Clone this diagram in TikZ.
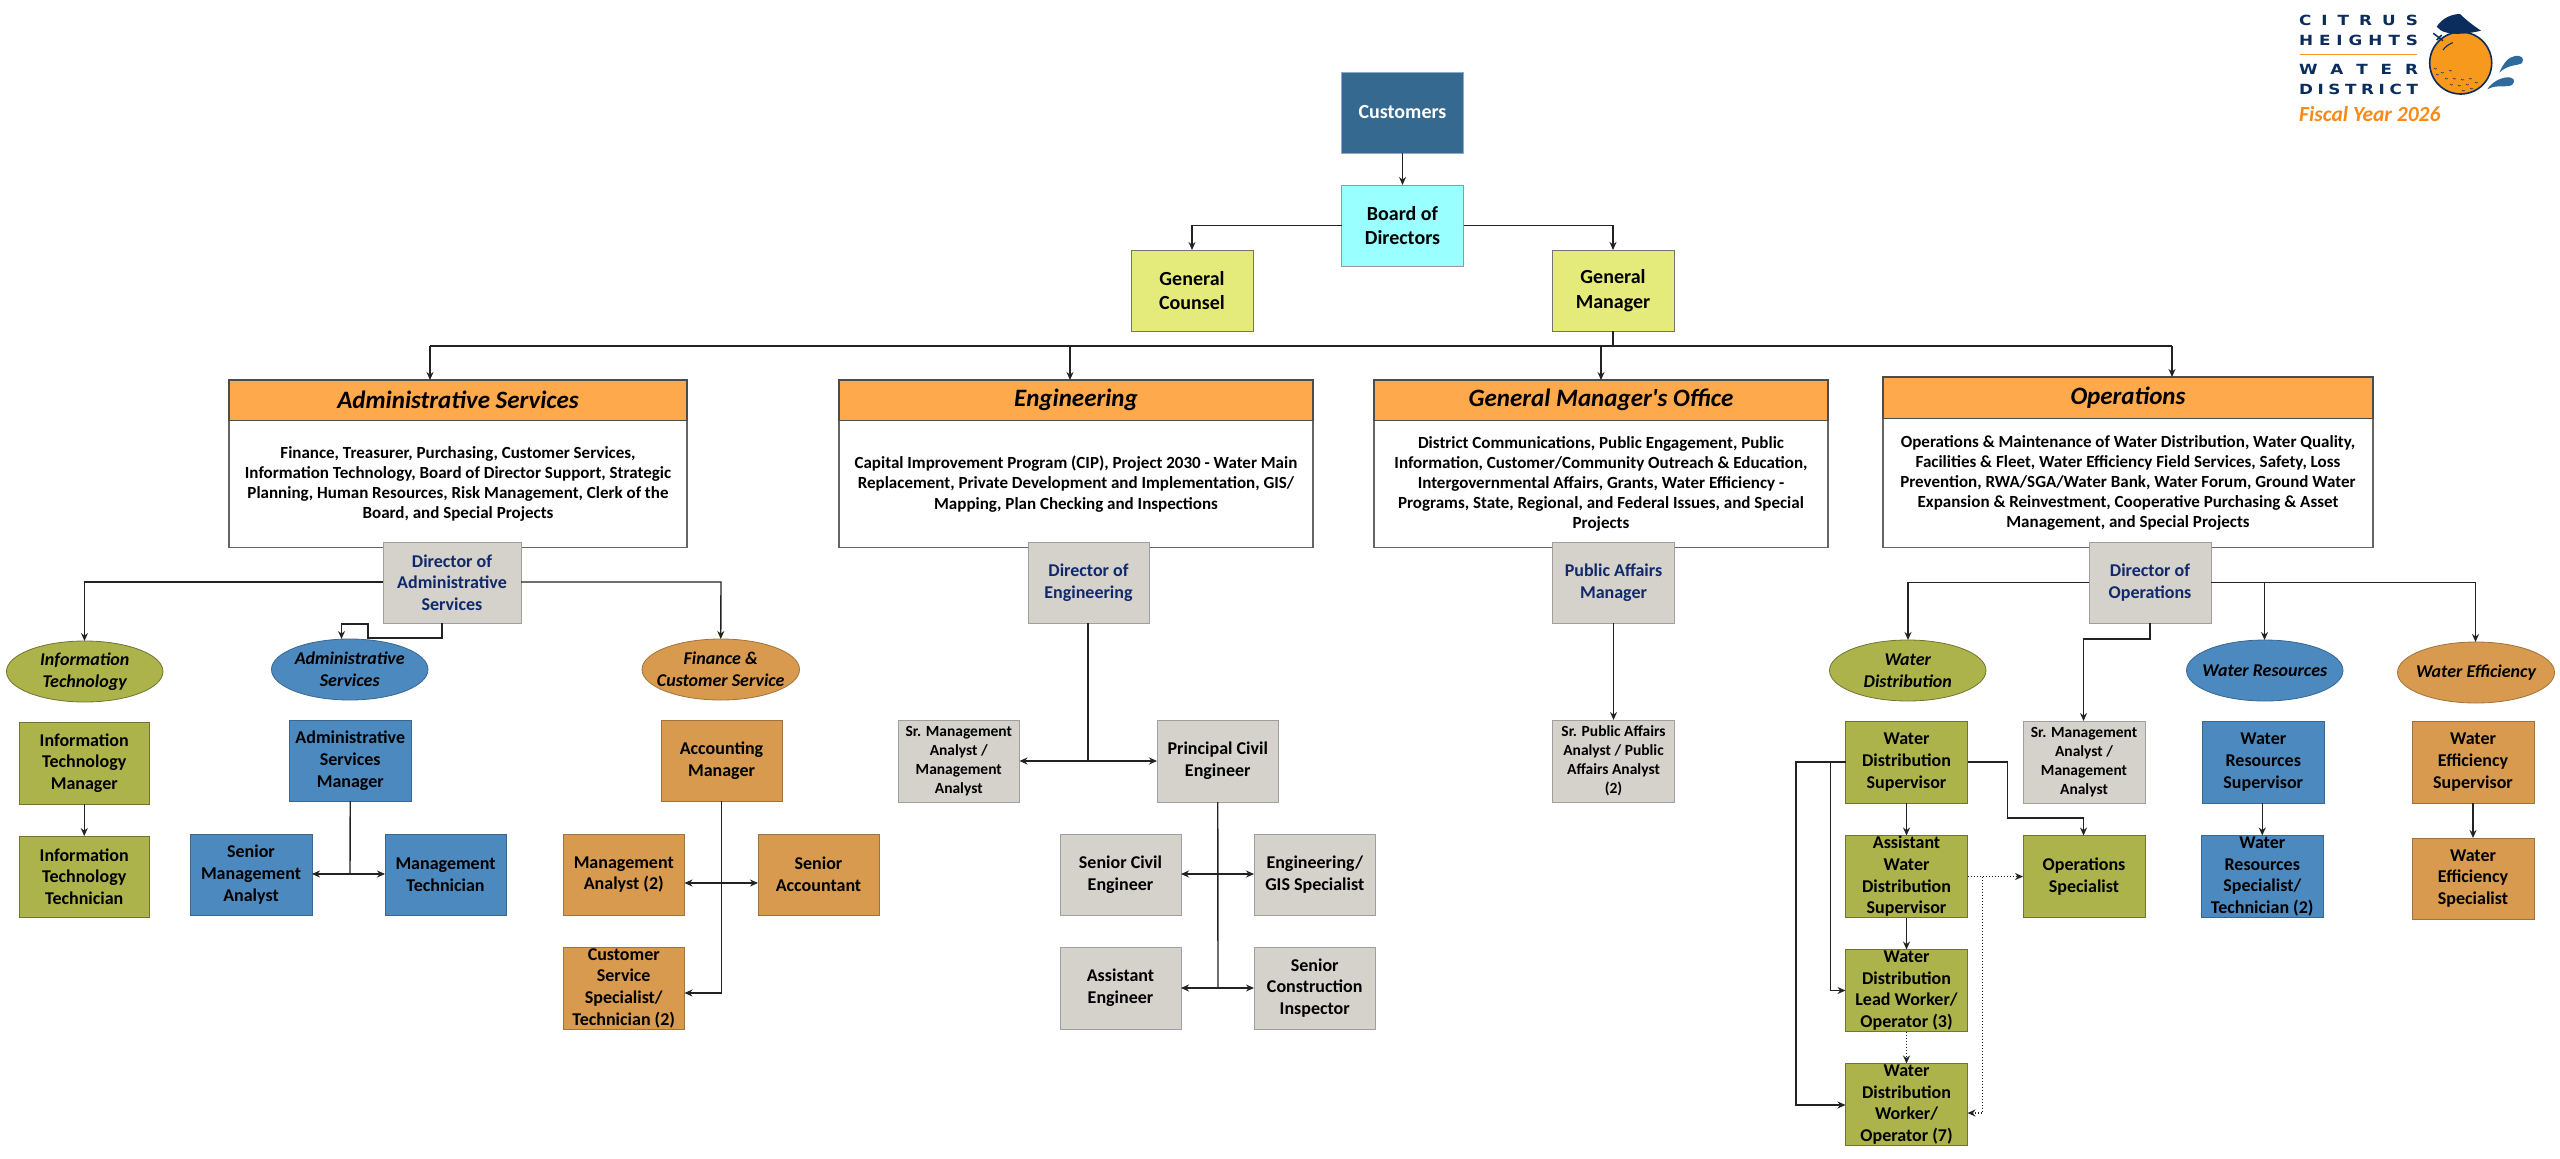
\documentclass[tikz,border=0pt]{standalone}
\usepackage{fontspec}
\setmainfont{Carlito}[Ligatures=TeXOff]
\newfontfamily\logofont[FakeStretch=1.2]{DejaVu Sans}
\usetikzlibrary{arrows.meta,shapes.geometric}
\definecolor{custfill}{HTML}{356990}
\definecolor{custline}{HTML}{8FA8D0}
\definecolor{boardfill}{HTML}{99FFFF}
\definecolor{gmfill}{HTML}{E5EB7B}
\definecolor{headfill}{HTML}{FFA94D}
\definecolor{dirfill}{HTML}{D5D1CB}
\definecolor{navytext}{HTML}{10296A}
\definecolor{olivefill}{HTML}{ADB34B}
\definecolor{bluefill}{HTML}{4C89BF}
\definecolor{orfill}{HTML}{D79A4E}
\definecolor{logonavy}{HTML}{0B2D5E}
\definecolor{logoor}{HTML}{F7991C}
\definecolor{dropblue}{HTML}{2F6A9C}
\definecolor{conncol}{HTML}{222222}
\newcommand{\bx}[7]{%
  \pgfmathsetmacro\myW{#4-#2}\pgfmathsetmacro\myH{#5-#3}%
  \pgfmathsetmacro\myX{(#2+#4)/2}\pgfmathsetmacro\myY{(#3+#5)/2}%
  \node[#6,minimum width=\myW pt,minimum height=\myH pt] (#1) at (\myX,\myY) {#7};}
\newcommand{\elx}[7]{%
  \pgfmathsetmacro\myW{#4-#2}\pgfmathsetmacro\myH{#5-#3}%
  \pgfmathsetmacro\myX{(#2+#4)/2}\pgfmathsetmacro\myY{(#3+#5)/2}%
  \node[#6,minimum width=\myW pt,minimum height=\myH pt] (#1) at (\myX,\myY) {};
  \node[eltext] (#1t) at (#1.center) {#7};}
\newcommand{\spaced}[1]{\makebox[119pt][s]{#1}}
\tikzset{
  basebox/.style={draw,rectangle,inner sep=0pt,outer sep=0pt,align=center,line width=1pt,
    font=\bfseries\fontsize{18}{21.7}\selectfont,text=black},
  topbox/.style={basebox,font=\bfseries\fontsize{20}{24.5}\selectfont},
  cust/.style={topbox,fill=custfill,draw=custline,text=white},
  board/.style={topbox,fill=boardfill,draw=gray!80},
  gmbox/.style={topbox,fill=gmfill,draw=gray!90!black},
  head/.style={basebox,fill=headfill,draw=black!70,line width=1.2pt,font=\bfseries\itshape\fontsize{25}{30}\selectfont},
  body/.style={basebox,fill=white,draw=black!60,line width=1.2pt,font=\bfseries\fontsize{17}{20.2}\selectfont},
  dirbox/.style={basebox,fill=dirfill,draw=gray!75,text=navytext},
  graybox/.style={basebox,fill=dirfill,draw=gray!75},
  grsmall/.style={graybox,font=\bfseries\fontsize{15.5}{19}\selectfont},
  olivebox/.style={basebox,fill=olivefill,draw=olivefill!65!black},
  bluebox/.style={basebox,fill=bluefill,draw=bluefill!75!black},
  orbox/.style={basebox,fill=orfill,draw=orfill!75!black},
  elbase/.style={draw,ellipse,inner sep=0pt,outer sep=0pt,line width=.8pt},
  eltext/.style={inner sep=0pt,align=center,font=\bfseries\itshape\fontsize{18}{21.7}\selectfont},
  oliveel/.style={elbase,fill=olivefill,draw=olivefill!65!black},
  blueel/.style={elbase,fill=bluefill,draw=bluefill!75!black},
  orel/.style={elbase,fill=orfill,draw=orfill!75!black},
  conn/.style={draw=conncol,line width=1.4pt},
  arr/.style={conn,-{Stealth[length=8pt,width=7pt]}},
  darr/.style={conn,{Stealth[length=8pt,width=7pt]}-{Stealth[length=8pt,width=7pt]}},
  dotarr/.style={draw=conncol,line width=1.4pt,dash pattern=on 1.5pt off 1.5pt,-{Stealth[length=8pt,width=7pt,sep=0pt]}},
  logotext/.style={inner sep=0pt,font=\logofont\bfseries\fontsize{14}{14}\selectfont,text=logonavy},
}
\begin{document}
\begin{tikzpicture}[x=1pt,y=-1pt]
\useasboundingbox (0,0) rectangle (2560,1159);
% top
\bx{customers}{1341.5}{72}{1463.5}{153}{cust}{Customers}
\bx{boardd}{1341.5}{185}{1463.5}{266}{board}{Board of\\Directors}
\bx{counsel}{1131}{250}{1253}{331}{gmbox}{General\\Counsel}
\bx{gm}{1552}{250}{1674}{331}{gmbox}{General\\Manager}
% department bodies and headers
\bx{adminb}{229}{420.5}{687}{547.5}{body}{Finance, Treasurer, Purchasing, Customer Services,\\Information Technology, Board of Director Support, Strategic\\Planning, Human Resources, Risk Management, Clerk of the\\Board, and Special Projects}
\bx{adminh}{229}{380}{687}{420.5}{head}{Administrative Services}
\bx{engb}{839}{420.5}{1313}{547.5}{body}{Capital Improvement Program (CIP), Project 2030 - Water Main\\Replacement, Private Development and Implementation, GIS/\\Mapping, Plan Checking and Inspections}
\bx{engh}{839}{380}{1313}{420.5}{head}{Engineering}
\bx{gmob}{1374}{420.5}{1828}{547.5}{body}{District Communications, Public Engagement, Public\\Information, Customer/Community Outreach \& Education,\\Intergovernmental Affairs, Grants, Water Efficiency -\\Programs, State, Regional, and Federal Issues, and Special\\Projects}
\bx{gmoh}{1374}{380}{1828}{420.5}{head}{General Manager's Office}
\bx{opsb}{1883}{418.5}{2373}{547.5}{body}{Operations \& Maintenance of Water Distribution, Water Quality,\\Facilities \& Fleet, Water Efficiency Field Services, Safety, Loss\\Prevention, RWA/SGA/Water Bank, Water Forum, Ground Water\\Expansion \& Reinvestment, Cooperative Purchasing \& Asset\\Management, and Special Projects}
\bx{opsh}{1883}{377}{2373}{418.5}{head}{Operations}
% directors
\bx{diradmin}{383}{542}{521}{623}{dirbox}{Director of\\Administrative\\Services}
\bx{direng}{1028}{542}{1149}{623}{dirbox}{Director of\\Engineering}
\bx{pam}{1552.5}{542}{1674.5}{623}{dirbox}{Public Affairs\\Manager}
\bx{dirops}{2089}{542}{2211}{623}{dirbox}{Director of\\Operations}
% ellipses
\elx{itel}{6.5}{641}{163}{702}{oliveel}{Information\\Technology}
\elx{asel}{271.5}{639}{428}{700}{blueel}{Administrative\\Services}
\elx{fcel}{642}{639}{799.5}{700}{orel}{Finance \&\\Customer Service}
\elx{wdel}{1829.5}{640}{1986}{701}{oliveel}{Water\\Distribution}
\elx{wrel}{2186.5}{640}{2343}{701}{blueel}{Water Resources}
\elx{weel}{2397.5}{642}{2554.5}{703}{orel}{Water Efficiency}
% admin column
\bx{itm}{19.5}{722}{149}{804}{olivebox}{Information\\Technology\\Manager}
\bx{itt}{19.5}{836}{149}{917}{olivebox}{Information\\Technology\\Technician}
\bx{asm}{289.5}{720}{411}{801}{bluebox}{Administrative\\Services\\Manager}
\bx{sma}{190}{834}{312}{915}{bluebox}{Senior\\Management\\Analyst}
\bx{mt}{385}{834}{506}{915}{bluebox}{Management\\Technician}
\bx{acm}{661}{720}{782}{801}{orbox}{Accounting\\Manager}
\bx{ma}{563}{834}{684.5}{915}{orbox}{Management\\Analyst (2)}
\bx{sa}{758}{834}{879}{915}{orbox}{Senior\\Accountant}
\bx{css}{563}{947}{684.5}{1029}{orbox}{Customer\\Service\\Specialist/\\Technician (2)}
% engineering column
\bx{srma}{898}{720}{1019.5}{802}{grsmall}{Sr. Management\\Analyst /\\Management\\Analyst}
\bx{pce}{1157}{720}{1278.5}{802}{graybox}{Principal Civil\\Engineer}
\bx{sce}{1060}{834}{1181}{915}{graybox}{Senior Civil\\Engineer}
\bx{egis}{1254}{834}{1375.5}{915}{graybox}{Engineering/\\GIS Specialist}
\bx{ae}{1060}{947}{1181}{1029}{graybox}{Assistant\\Engineer}
\bx{sci}{1254}{947}{1375.5}{1029}{graybox}{Senior\\Construction\\Inspector}
% public affairs
\bx{spa}{1552.5}{720}{1674.5}{802}{grsmall}{Sr. Public Affairs\\Analyst / Public\\Affairs Analyst\\(2)}
% operations column
\bx{wds}{1845.5}{721}{1967.5}{803}{olivebox}{Water\\Distribution\\Supervisor}
\bx{awds}{1845.5}{835.5}{1967.5}{917.5}{olivebox}{Assistant\\Water\\Distribution\\Supervisor}
\bx{wdl}{1845.5}{949.5}{1967.5}{1031.5}{olivebox}{Water\\Distribution\\Lead Worker/\\Operator (3)}
\bx{wdw}{1845.5}{1063.5}{1967.5}{1145.5}{olivebox}{Water\\Distribution\\Worker/\\Operator (7)}
\bx{srmb}{2023}{721}{2145}{803}{grsmall}{Sr. Management\\Analyst /\\Management\\Analyst}
\bx{opsp}{2023}{835.5}{2145}{917.5}{olivebox}{Operations\\Specialist}
\bx{wrs}{2202.5}{721}{2324}{803}{bluebox}{Water\\Resources\\Supervisor}
\bx{wrt}{2201.5}{835.5}{2323}{917.5}{bluebox}{Water\\Resources\\Specialist/\\Technician (2)}
\bx{wes}{2412}{721}{2534}{803}{orbox}{Water\\Efficiency\\Supervisor}
\bx{wet}{2412}{838}{2534}{919}{orbox}{Water\\Efficiency\\Specialist}
% bend and bus coordinates
\coordinate (busa) at (430,346);
\coordinate (buse) at (1070,346);
\coordinate (busg) at (1601,346);
\coordinate (buso) at (2172,346);
\coordinate (leftbus) at (84.5,582);
\coordinate (rightbus) at (721,582);
\coordinate (ad1) at (442,638);
\coordinate (ad2) at (368,638);
\coordinate (ad3) at (368,624);
\coordinate (ad4) at (341.5,624);
\coordinate (eng1) at (1088,761);
\coordinate (pce1) at (1218,874);
\coordinate (pce2) at (1218,988);
\coordinate (asm1) at (350,874);
\coordinate (acm1) at (721.5,883);
\coordinate (acm2) at (721.5,993);
\coordinate (op1) at (1908,582.5);
\coordinate (op2) at (2264.5,582.5);
\coordinate (op3) at (2475.5,582.5);
\coordinate (op4) at (2150,639);
\coordinate (op5) at (2083.5,639);
\coordinate (wl1) at (1796,762);
\coordinate (wl2) at (1796,1105);
\coordinate (wl3) at (1830.5,762);
\coordinate (wl4) at (1830.5,990.5);
\coordinate (wr1) at (2007.5,762);
\coordinate (wr2) at (2007.5,818);
\coordinate (wr3) at (2083.5,818);
\coordinate (dt1) at (1982.5,876.5);
\coordinate (dt2) at (1982.5,1113);
% top connectors
\draw[arr] (customers) -- (boardd);
\draw[arr] (boardd.west) -| (counsel.north);
\draw[arr] (boardd.east) -| (gm.north);
\draw[conn] (gm.south) -- (gm.south |- busa);
\draw[conn] (busa) -- (buso);
\draw[arr] (busa) -- (busa |- adminh.north);
\draw[arr] (buse) -- (buse |- engh.north);
\draw[arr] (busg) -- (busg |- gmoh.north);
\draw[arr] (buso) -- (buso |- opsh.north);
% admin
\draw[arr] (diradmin.west |- leftbus) -- (leftbus) -- (leftbus |- itel.north);
\draw[arr] (diradmin.east |- rightbus) -- (rightbus) -- (fcel.north);
\draw[arr] (ad1 |- diradmin.south) -- (ad1) -- (ad2) -- (ad3) -- (ad4) -- (ad4 |- asel.north);
\draw[arr] (itm) -- (itt);
\draw[conn] (asm.south) -- (asm1);
\draw[darr] (sma.east |- asm1) -- (mt.west |- asm1);
\draw[conn] (acm.south) -- (acm2);
\draw[darr] (ma.east |- acm1) -- (sa.west |- acm1);
\draw[arr] (acm2) -- (css.east |- acm2);
% engineering
\draw[conn] (direng.south -| eng1) -- (eng1);
\draw[darr] (srma.east |- eng1) -- (pce.west |- eng1);
\draw[conn] (pce.south) -- (pce2);
\draw[darr] (sce.east |- pce1) -- (egis.west |- pce1);
\draw[darr] (ae.east |- pce2) -- (sci.west |- pce2);
% public affairs
\draw[arr] (pam) -- (spa);
% operations
\draw[arr] (dirops.west |- op1) -- (op1) -- (op1 |- wdel.north);
\draw[conn] (dirops.east |- op3) -- (op3);
\draw[arr] (op2) -- (op2 |- wrel.north);
\draw[arr] (op3) -- (op3 |- weel.north);
\draw[arr] (dirops.south) -- (op4) -- (op5) -- (op5 |- srmb.north);
\draw[arr] (wds) -- (awds);
\draw[arr] (awds) -- (wdl);
\draw[dotarr] (wdl) -- (wdw);
\draw[arr] (wds.west) -- (wl1) -- (wl2) -- (wdw.west |- wl2);
\draw[arr] (wl3) -- (wl4) -- (wdl.west |- wl4);
\draw[arr] (wds.east) -- (wr1) -- (wr2) -- (wr3) -- (wr3 |- opsp.north);
\draw[dotarr] (awds.east) -- (opsp.west);
\draw[dotarr] (dt1) -- (dt2) -- (wdw.east |- dt2);
\draw[arr] (wrs.south -| wrt) -- (wrt);
\draw[arr] (wes) -- (wet);
% logo
\node[logotext] (l1) at (2358.5,20) {\spaced{C\hfill I\hfill T\hfill R\hfill U\hfill S}};
\node[logotext] (l2) at (2358.5,40) {\spaced{H\hfill E\hfill I\hfill G\hfill H\hfill T\hfill S}};
\node[logotext] (l3) at (2358.5,69) {\spaced{W\hfill A\hfill T\hfill E\hfill R}};
\node[logotext] (l4) at (2358.5,89) {\spaced{D\hfill I\hfill S\hfill T\hfill R\hfill I\hfill C\hfill T}};
\draw[logoor,line width=1.3pt] (2300,54.3) -- (2417,54.3);
\node[inner sep=0pt,font=\bfseries\itshape\fontsize{21.5}{24}\selectfont,text=logoor!90!red,anchor=west] (fy) at (2299,114) {Fiscal Year 2026};
\fill[logoor,draw=logonavy,line width=1.6pt] (2460.7,63) circle (31);
\fill[logonavy] (2436.7,26.7) .. controls (2442,18) and (2452,14) .. (2460,14) .. controls (2466,20) and (2474,26) .. (2481,30.7) .. controls (2472,33) and (2445,38) .. (2436.7,26.7) -- cycle;
\draw[logonavy,line width=1.5pt] (2433.3,33.3) -- (2443,40.7) (2436.7,40) -- (2441.7,35);
\draw[logonavy,line width=1.1pt] (2443,50) .. controls (2445,47) and (2449,44) .. (2452.7,42.7);
\foreach \dx/\dy in {2434/68,2441/72,2449/70,2445/78,2453/78,2461/79,2469/78,2450/84,2458/85,2466/84,2475/82,2462/90,2470/88,2436/74}{
  \draw[logonavy,line width=.6pt] (\dx,\dy) .. controls (\dx+1,\dy+1.3) and (\dx+2,\dy+1.3) .. (\dx+3,\dy+.6);
}
\fill[dropblue] (2499.3,72.7) .. controls (2503,64) and (2508,57) .. (2515,56) .. controls (2521,55) and (2525,58) .. (2522,63) .. controls (2518,66) and (2508,64) .. (2499.3,72.7) -- cycle;
\fill[dropblue] (2487.3,89.3) .. controls (2492,82) and (2500,78) .. (2507,77.3) .. controls (2514,77) and (2516,81) .. (2512,85) .. controls (2506,88) and (2497,84) .. (2487.3,89.3) -- cycle;
\end{tikzpicture}
\end{document}
